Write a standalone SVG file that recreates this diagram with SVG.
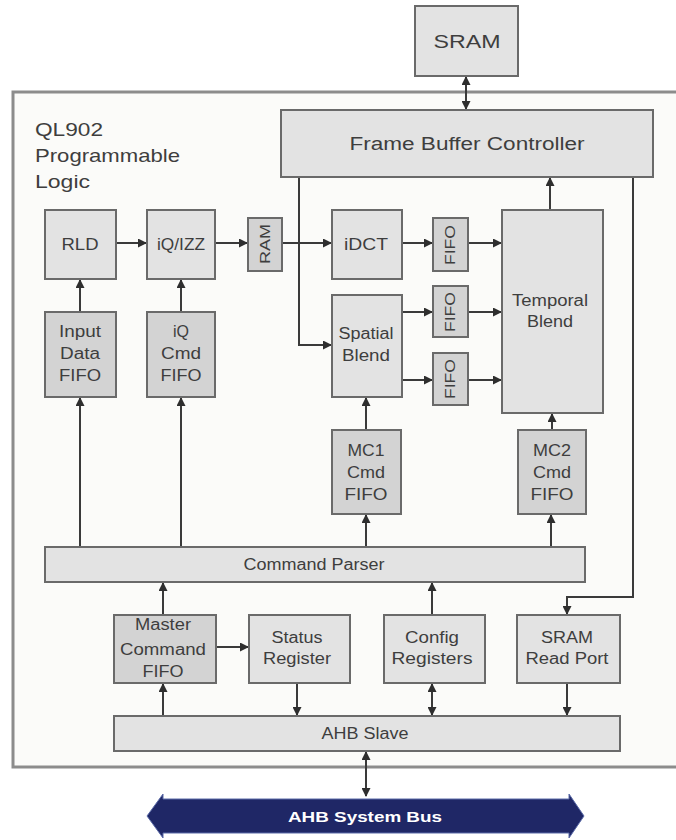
<svg xmlns="http://www.w3.org/2000/svg" width="676" height="840" viewBox="0 0 676 840">
<defs>
<marker id="ah" markerUnits="userSpaceOnUse" markerWidth="9" markerHeight="9" refX="8" refY="4.5" orient="auto-start-reverse">
<path d="M0,0 L9,4.5 L0,9 z" fill="#2e2e2e"/>
</marker>
<style>
.bx{fill:#e3e3e3;stroke:#6a6a6a;stroke-width:2}
.fx{fill:#d3d3d3;stroke:#6a6a6a;stroke-width:2}
.t{font-family:"Liberation Sans",Arial,sans-serif;font-size:16px;fill:#3e3e3e;text-anchor:middle}
.big{font-size:19px}
.ln{fill:none;stroke:#3a3a3a;stroke-width:2}
.a{marker-end:url(#ah)}
.b{marker-start:url(#ah);marker-end:url(#ah)}
</style>
</defs>
<rect width="676" height="840" fill="#ffffff"/>
<g id="frame">
<rect x="13" y="92" width="680" height="675" fill="#fbfbf9" stroke="#8c8c8c" stroke-width="3"/>
<text class="t big" x="35" y="136" text-anchor="start" style="text-anchor:start" textLength="68" lengthAdjust="spacingAndGlyphs">QL902</text>
<text class="t big" x="35" y="162" style="text-anchor:start" textLength="145" lengthAdjust="spacingAndGlyphs">Programmable</text>
<text class="t big" x="35" y="188" style="text-anchor:start" textLength="55" lengthAdjust="spacingAndGlyphs">Logic</text>
</g>
<g id="connectors">
<line class="ln b" x1="466" y1="77" x2="466" y2="109"/>
<line class="ln a" x1="116" y1="243" x2="146" y2="243"/>
<line class="ln a" x1="215" y1="243" x2="247" y2="243"/>
<line class="ln a" x1="282" y1="243" x2="331" y2="243"/>
<path class="ln a" d="M299,178 V345 H331"/>
<line class="ln a" x1="402" y1="243" x2="432" y2="243"/>
<line class="ln a" x1="468" y1="243" x2="501" y2="243"/>
<line class="ln a" x1="402" y1="312" x2="432" y2="312"/>
<line class="ln a" x1="468" y1="312" x2="501" y2="312"/>
<line class="ln a" x1="402" y1="380" x2="432" y2="380"/>
<line class="ln a" x1="468" y1="380" x2="501" y2="380"/>
<line class="ln a" x1="550" y1="210" x2="550" y2="178"/>
<line class="ln a" x1="80" y1="312" x2="80" y2="280"/>
<line class="ln a" x1="181" y1="312" x2="181" y2="280"/>
<line class="ln a" x1="80" y1="547" x2="80" y2="398"/>
<line class="ln a" x1="181" y1="547" x2="181" y2="398"/>
<line class="ln a" x1="366" y1="547" x2="366" y2="515"/>
<line class="ln a" x1="551" y1="547" x2="551" y2="515"/>
<line class="ln a" x1="366" y1="430" x2="366" y2="398"/>
<line class="ln a" x1="552" y1="430" x2="552" y2="414"/>
<path class="ln a" d="M633,178 V597 H567 V614"/>
<line class="ln a" x1="163" y1="615" x2="163" y2="583"/>
<line class="ln a" x1="163" y1="716" x2="163" y2="684"/>
<line class="ln a" x1="216" y1="647" x2="248" y2="647"/>
<line class="ln a" x1="297" y1="683" x2="297" y2="715"/>
<line class="ln a" x1="432" y1="615" x2="432" y2="583"/>
<line class="ln b" x1="432" y1="684" x2="432" y2="715"/>
<line class="ln a" x1="567" y1="683" x2="567" y2="715"/>
<line class="ln b" x1="366" y1="752" x2="366" y2="796"/>
</g>
<g id="sram"><rect class="bx" x="415" y="6" width="103" height="70"/><text class="t big" x="467" y="48" textLength="67" lengthAdjust="spacingAndGlyphs">SRAM</text></g>
<g id="fbc"><rect class="bx" x="281" y="110" width="372" height="67"/><text class="t" x="467" y="150" style="font-size:18px" textLength="235" lengthAdjust="spacingAndGlyphs">Frame Buffer Controller</text></g>
<g id="rld"><rect class="bx" x="45" y="210" width="71" height="69"/><text class="t" x="80" y="250" textLength="37" lengthAdjust="spacingAndGlyphs">RLD</text></g>
<g id="iqizz"><rect class="bx" x="147" y="210" width="68" height="69"/><text class="t" x="181" y="250" textLength="48" lengthAdjust="spacingAndGlyphs">iQ/IZZ</text></g>
<g id="ram"><rect class="fx" x="248" y="218" width="34" height="53"/><text class="t" transform="translate(270,244) rotate(-90)" x="0" y="0" style="font-size:15px" textLength="40" lengthAdjust="spacingAndGlyphs">RAM</text></g>
<g id="idct"><rect class="bx" x="332" y="210" width="70" height="69"/><text class="t" x="366" y="250" textLength="44" lengthAdjust="spacingAndGlyphs">iDCT</text></g>
<g id="fifo1"><rect class="fx" x="433" y="218" width="35" height="53"/><text class="t" transform="translate(455,245) rotate(-90)" style="font-size:14px" textLength="40" lengthAdjust="spacingAndGlyphs">FIFO</text></g>
<g id="fifo2"><rect class="fx" x="433" y="286" width="35" height="51"/><text class="t" transform="translate(455,312) rotate(-90)" style="font-size:14px" textLength="40" lengthAdjust="spacingAndGlyphs">FIFO</text></g>
<g id="fifo3"><rect class="fx" x="433" y="353" width="35" height="52"/><text class="t" transform="translate(455,379) rotate(-90)" style="font-size:14px" textLength="40" lengthAdjust="spacingAndGlyphs">FIFO</text></g>
<g id="temporal"><rect class="bx" x="502" y="210" width="101" height="203"/><text class="t" x="550" y="306" textLength="76" lengthAdjust="spacingAndGlyphs">Temporal</text><text class="t" x="550" y="327" textLength="46" lengthAdjust="spacingAndGlyphs">Blend</text></g>
<g id="spatial"><rect class="bx" x="332" y="295" width="70" height="102"/><text class="t" x="366" y="339" textLength="55" lengthAdjust="spacingAndGlyphs">Spatial</text><text class="t" x="366" y="361" textLength="48" lengthAdjust="spacingAndGlyphs">Blend</text></g>
<g id="infifo"><rect class="fx" x="45" y="312" width="71" height="85"/><text class="t" x="80" y="337" textLength="42" lengthAdjust="spacingAndGlyphs">Input</text><text class="t" x="80" y="359" textLength="40" lengthAdjust="spacingAndGlyphs">Data</text><text class="t" x="80" y="381" textLength="42" lengthAdjust="spacingAndGlyphs">FIFO</text></g>
<g id="iqcmd"><rect class="fx" x="147" y="312" width="68" height="85"/><text class="t" x="181" y="337">iQ</text><text class="t" x="181" y="359" textLength="40" lengthAdjust="spacingAndGlyphs">Cmd</text><text class="t" x="181" y="381" textLength="41" lengthAdjust="spacingAndGlyphs">FIFO</text></g>
<g id="mc1"><rect class="fx" x="332" y="430" width="69" height="84"/><text class="t" x="366" y="456" textLength="37" lengthAdjust="spacingAndGlyphs">MC1</text><text class="t" x="366" y="478" textLength="38" lengthAdjust="spacingAndGlyphs">Cmd</text><text class="t" x="366" y="500" textLength="43" lengthAdjust="spacingAndGlyphs">FIFO</text></g>
<g id="mc2"><rect class="fx" x="518" y="430" width="68" height="84"/><text class="t" x="552" y="456" textLength="38" lengthAdjust="spacingAndGlyphs">MC2</text><text class="t" x="552" y="478" textLength="38" lengthAdjust="spacingAndGlyphs">Cmd</text><text class="t" x="552" y="500" textLength="43" lengthAdjust="spacingAndGlyphs">FIFO</text></g>
<g id="cmdparser"><rect class="bx" x="45" y="547" width="540" height="35"/><text class="t" x="314" y="570" textLength="141" lengthAdjust="spacingAndGlyphs">Command Parser</text></g>
<g id="master"><rect class="fx" x="114" y="615" width="102" height="68"/><text class="t" x="163" y="630" textLength="56" lengthAdjust="spacingAndGlyphs">Master</text><text class="t" x="163" y="655" textLength="86" lengthAdjust="spacingAndGlyphs">Command</text><text class="t" x="163" y="677" textLength="41" lengthAdjust="spacingAndGlyphs">FIFO</text></g>
<g id="status"><rect class="bx" x="249" y="615" width="101" height="68"/><text class="t" x="297" y="643" textLength="51" lengthAdjust="spacingAndGlyphs">Status</text><text class="t" x="297" y="664" textLength="68" lengthAdjust="spacingAndGlyphs">Register</text></g>
<g id="config"><rect class="bx" x="384" y="615" width="101" height="68"/><text class="t" x="432" y="643" textLength="54" lengthAdjust="spacingAndGlyphs">Config</text><text class="t" x="432" y="664" textLength="81" lengthAdjust="spacingAndGlyphs">Registers</text></g>
<g id="srp"><rect class="bx" x="517" y="615" width="103" height="68"/><text class="t" x="567" y="643" textLength="52" lengthAdjust="spacingAndGlyphs">SRAM</text><text class="t" x="567" y="664" textLength="83" lengthAdjust="spacingAndGlyphs">Read Port</text></g>
<g id="ahbslave"><rect class="bx" x="114" y="716" width="506" height="35"/><text class="t" x="365" y="739" textLength="87" lengthAdjust="spacingAndGlyphs">AHB Slave</text></g>
<g id="ahbbus"><polygon points="147,816 163,794 163,799 569,799 569,794 584,816 569,838 569,833 163,833 163,838" fill="#1f2766" stroke="#5a6aa8" stroke-width="1"/><text class="t" x="365" y="822" style="fill:#ffffff;font-weight:bold;font-size:15px" textLength="154" lengthAdjust="spacingAndGlyphs">AHB System Bus</text></g>
</svg>
